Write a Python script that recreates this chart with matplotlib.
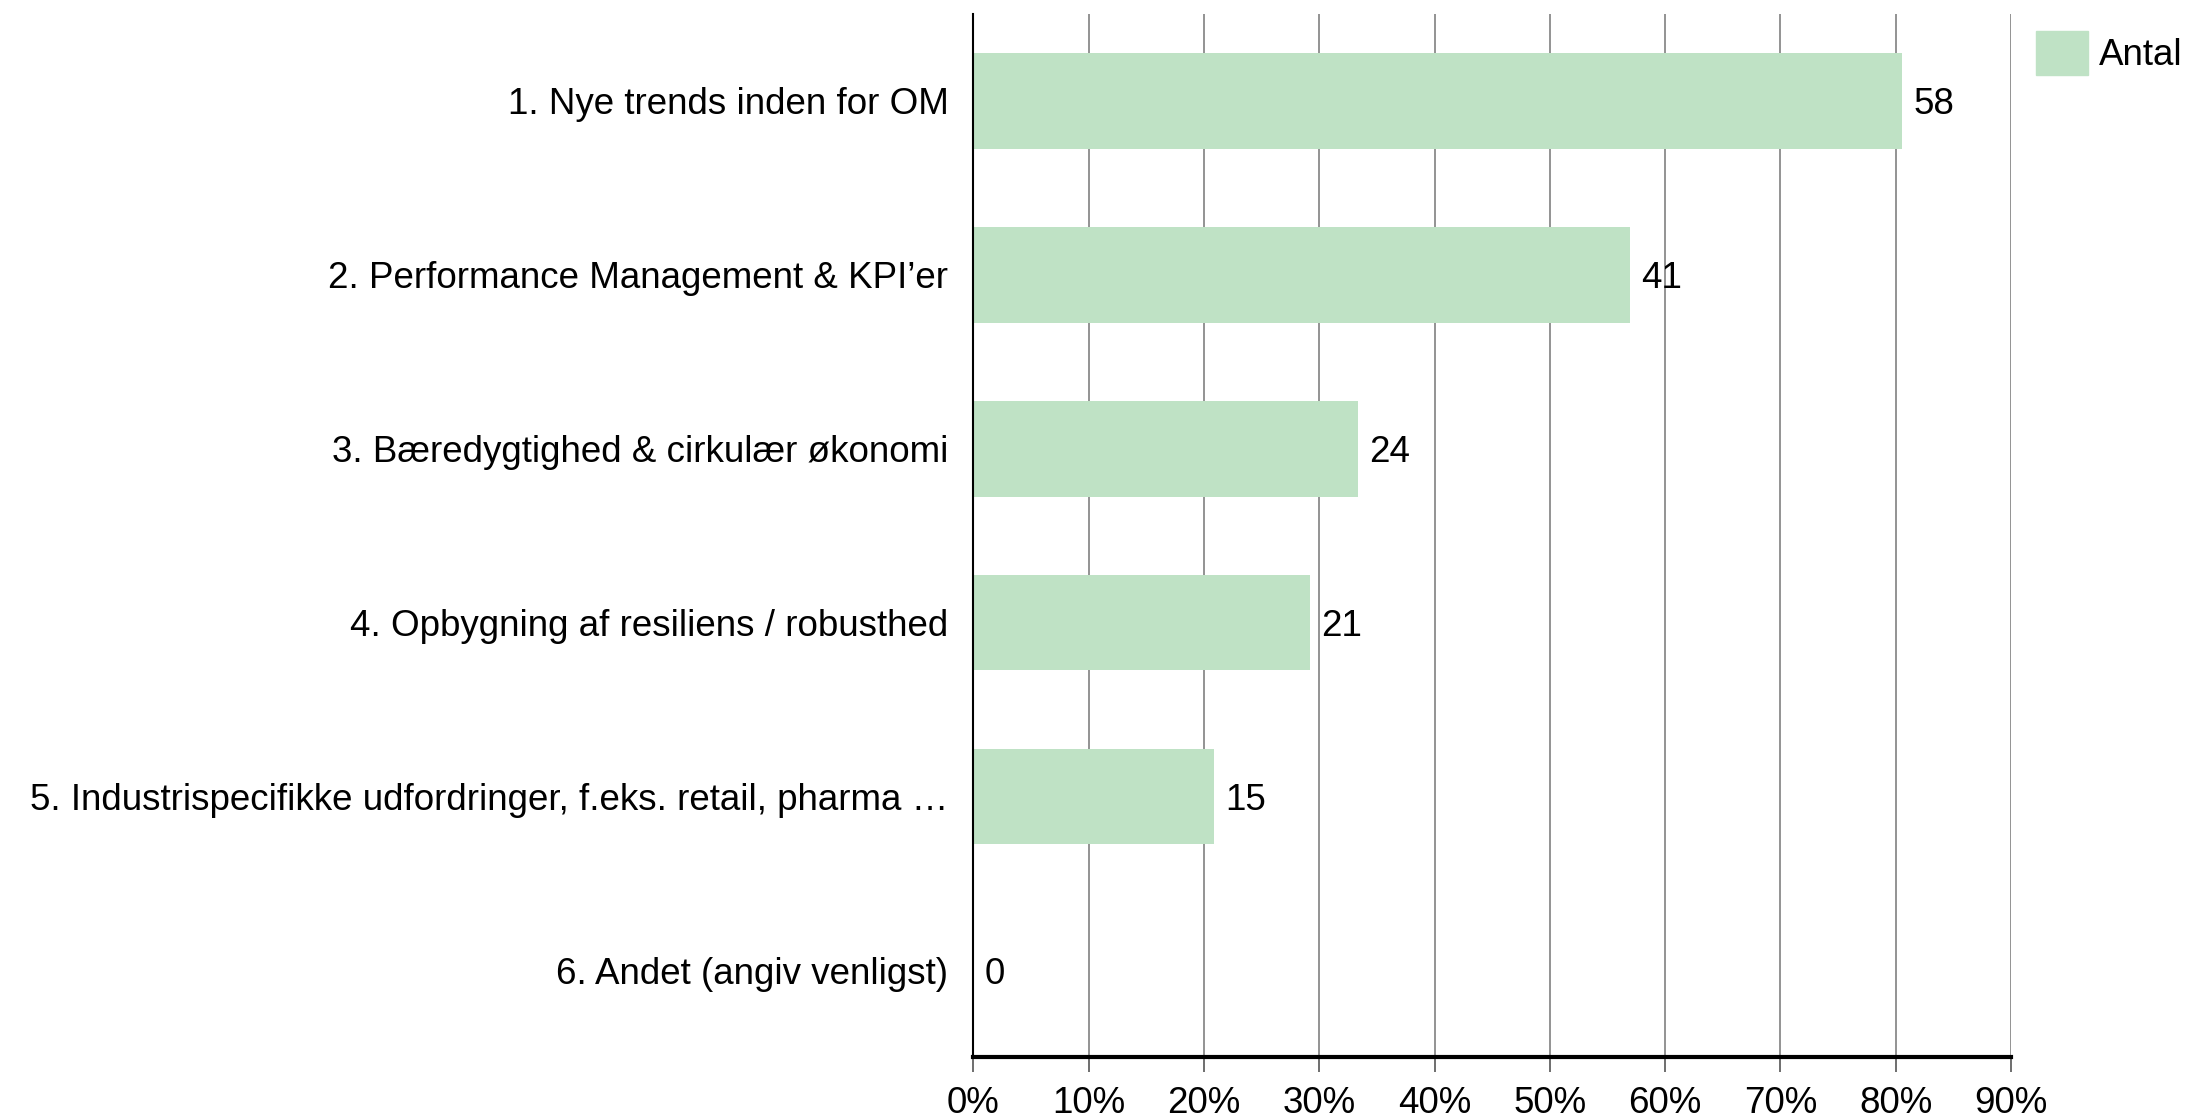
import matplotlib
matplotlib.use("Agg")
import matplotlib.pyplot as plt
from matplotlib.patches import Patch

categories = [
    "1. Nye trends inden for OM",
    "2. Performance Management & KPI\u2019er",
    "3. Bæredygtighed & cirkulær økonomi",
    "4. Opbygning af resiliens / robusthed",
    "5. Industrispecifikke udfordringer, f.eks. retail, pharma \u2026",
    "6. Andet (angiv venligst)",
]
counts = [58, 41, 24, 21, 15, 0]
total_respondents = 72
xticks = [0, 10, 20, 30, 40, 50, 60, 70, 80, 90]
xtick_labels = [f"{t}%" for t in xticks]
legend_label = "Antal"

plt.rcParams['font.family'] = ['Liberation Sans', 'DejaVu Sans']
FS = 26.5

fig = plt.figure(figsize=(21.9, 11.2), dpi=100)
ax = fig.add_axes([0.4445, 0.056, 0.4738, 0.9315])

pct = [c / total_respondents * 100 for c in counts]
ypos = list(range(len(categories)))
color = "#bfe2c5"
ax.barh(ypos, pct, height=0.55, color=color, zorder=3)
for y, p, c in zip(ypos, pct, counts):
    ax.text(p + 1.0, y, str(c), va="center_baseline", ha="left", fontsize=FS, color="black", zorder=4)

ax.set_ylim(len(categories) - 0.5, -0.5)
ax.set_xlim(0, 90)
ax.set_yticks(ypos)
ax.set_yticklabels(categories, fontsize=FS, va="center_baseline")
ax.set_xticks(xticks)
ax.set_xticklabels(xtick_labels, fontsize=FS)
ax.tick_params(axis="y", length=0, pad=18)
ax.tick_params(axis="x", length=11, width=1.2, color="#555555", pad=10)

ax.grid(axis="x", color="#8a8a8a", linewidth=1.3, zorder=0)
for s in ["top", "right"]:
    ax.spines[s].set_visible(False)
ax.spines["left"].set_color("black")
ax.spines["left"].set_linewidth(1.5)
ax.spines["left"].set_zorder(5)
ax.spines["bottom"].set_color("black")
ax.spines["bottom"].set_linewidth(3)

fig.legend(handles=[Patch(color=color, label=legend_label)], loc="upper left",
           bbox_to_anchor=(0.9298, 0.9725), frameon=False, fontsize=FS,
           handlelength=1.4, handleheight=1.45, handletextpad=0.3,
           borderaxespad=0, borderpad=0)

fig.savefig("out.png", dpi=100, facecolor="white")
